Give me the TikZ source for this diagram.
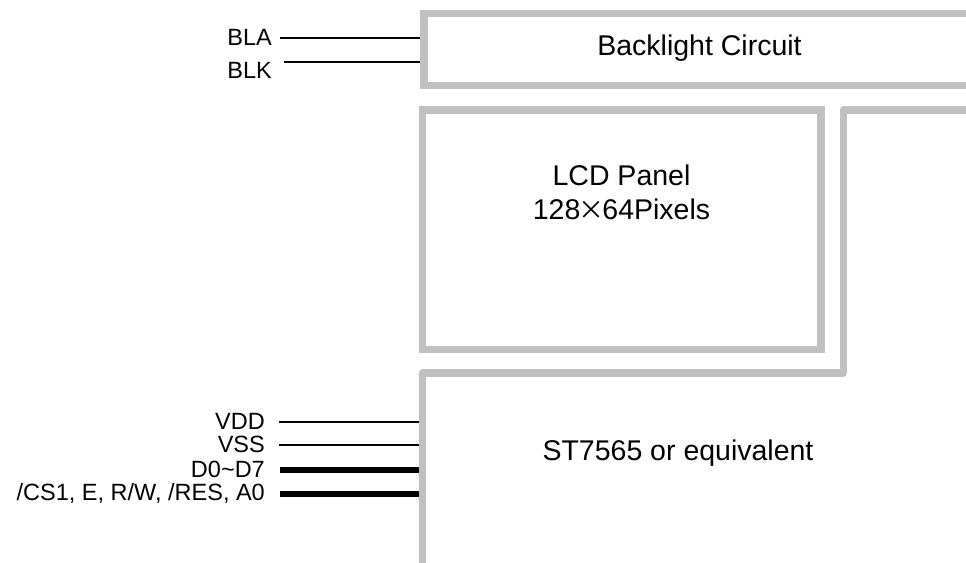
\documentclass[tikz,border=0pt]{standalone}
\usepackage{fontspec}
\setmainfont{Liberation Sans}
\newfontfamily\cjk{Noto Sans CJK SC}
\definecolor{frame}{HTML}{C0C0C0}
\begin{document}
\begin{tikzpicture}[x=1pt,y=-1pt,
  frameline/.style={draw=frame,line width=7.5pt},
  sig/.style={draw=black,line width=1.9pt},
  bus/.style={draw=black,line width=6pt},
  biglabel/.style={inner sep=0pt,font=\fontsize{28.5}{30}\selectfont},
  pinlabel/.style={inner sep=0pt,anchor=base east,font=\fontsize{23.5}{24}\selectfont}]
\useasboundingbox (0,0) rectangle (966,562);
% backlight box (open to the right)
\draw[frameline,line join=miter] (975,13.7) -- (424,13.7) -- (424,85.5) -- (975,85.5);
% LCD panel
\draw[frameline,line join=miter] (422.5,110) rectangle (821,349.7);
% controller outline
\draw[frameline,line join=round] (975,110) -- (843.5,110) -- (843.5,373) -- (422.5,373) -- (422.5,575);
% texts
\node[biglabel,anchor=base] (blt) at (699.5,55) {Backlight Circuit};
\node[biglabel,anchor=base] (lcd1) at (621.5,185) {LCD Panel};
\node[biglabel,anchor=base] (lcd2) at (621.5,219) {128\makebox[22pt]{\cjk\fontsize{26}{28}\selectfont ×}64Pixels};
\node[biglabel,anchor=base] (ctl) at (678,460) {ST7565 or equivalent};
% pin labels
\node[pinlabel] (bla) at (272,45.7) {BLA};
\node[pinlabel] (blk) at (272,78.3) {BLK};
\node[pinlabel] (vdd) at (265,429.3) {VDD};
\node[pinlabel] (vss) at (265,452.7) {VSS};
\node[pinlabel] (dat) at (265,477.3) {D0\char"7E D7};
\node[pinlabel] (ctr) at (265,500.5) {/CS1, E, R/W, /RES, A0};
% connector end points
\coordinate (bla-s) at (280,38.3);  \coordinate (bla-e) at (420,38.3);
\coordinate (blk-s) at (284,61.7);  \coordinate (blk-e) at (420,61.7);
\coordinate (vdd-s) at (279,422.3); \coordinate (vdd-e) at (419,422.3);
\coordinate (vss-s) at (279,445.3); \coordinate (vss-e) at (419,445.3);
\coordinate (dat-s) at (280,470);   \coordinate (dat-e) at (419,470);
\coordinate (ctr-s) at (280,494);   \coordinate (ctr-e) at (419,494);
\draw[sig] (bla-s) -- (bla-e);
\draw[sig] (blk-s) -- (blk-e);
\draw[sig] (vdd-s) -- (vdd-e);
\draw[sig] (vss-s) -- (vss-e);
\draw[bus] (dat-s) -- (dat-e);
\draw[bus] (ctr-s) -- (ctr-e);
\end{tikzpicture}
\end{document}
